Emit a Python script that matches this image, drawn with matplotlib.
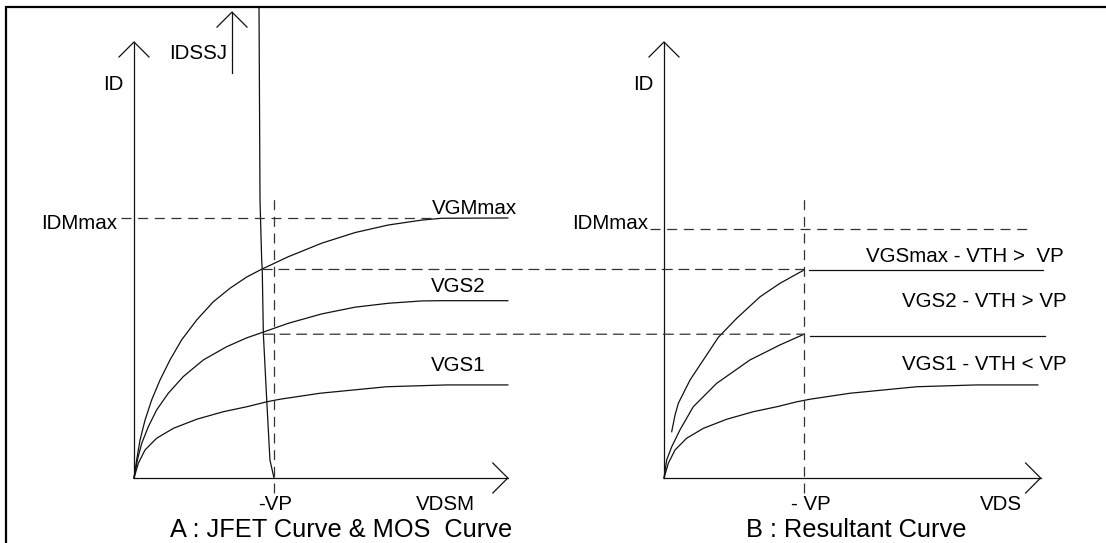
import matplotlib
matplotlib.use("Agg")
import matplotlib.pyplot as plt
from matplotlib.patches import ConnectionPatch
from matplotlib.lines import Line2D

plt.rcParams['font.family'] = ['Liberation Sans', 'DejaVu Sans']
plt.rcParams['lines.scale_dashes'] = False

# ---------------- data (x in units of VP, y in units of IDMmax of panel A) -------------
VP = 1.0
IDM_MAX_A = 1.0
IDM_MAX_B = 0.958
Y_AXIS_TOP = 1.677
X_AXIS_END_A = 2.67
X_AXIS_END_B = 2.69

# Panel A : MOS curves
vgm_max_x = [0, 0.019, 0.043, 0.079, 0.126, 0.186, 0.257, 0.34, 0.448, 0.567, 0.686,
             0.805, 0.912, 1.102, 1.34, 1.579, 1.816, 2.055, 2.198, 2.67]
vgm_max_y = [0, 0.069, 0.146, 0.223, 0.3, 0.377, 0.454, 0.531, 0.608, 0.678, 0.73,
             0.773, 0.803, 0.851, 0.903, 0.944, 0.973, 0.992, 0.999, 1.0]
vgs2_x = [0, 0.024, 0.055, 0.102, 0.162, 0.245, 0.352, 0.495, 0.662, 0.805, 0.912,
          1.102, 1.34, 1.579, 1.816, 2.055, 2.198, 2.67]
vgs2_y = [0, 0.069, 0.133, 0.197, 0.262, 0.326, 0.39, 0.454, 0.505, 0.539, 0.559,
          0.595, 0.631, 0.657, 0.672, 0.681, 0.682, 0.682]
vgs1_x = [0, 0.031, 0.079, 0.162, 0.281, 0.448, 0.638, 0.805, 0.948, 1.043, 1.329,
          1.805, 2.233, 2.67]
vgs1_y = [0, 0.057, 0.108, 0.153, 0.191, 0.226, 0.255, 0.274, 0.293, 0.303, 0.326,
          0.351, 0.358, 0.358]
# Panel A : JFET curve
jfet_x = [0.893, 0.9, 0.912, 0.916, 0.924, 0.948, 0.971, 1.0]
jfet_y = [1.808, 1.07, 0.838, 0.803, 0.554, 0.3, 0.069, 0.0]
idssj_x = 0.7
idssj_y = [1.558, 1.792]

# Panel B : resultant curves
top_b_x = [0.055, 0.078, 0.102, 0.186, 0.281, 0.388, 0.519, 0.686, 0.829, 1.0]
top_b_y = [0.178, 0.24, 0.287, 0.377, 0.454, 0.541, 0.614, 0.697, 0.749, 0.8]
top_b_flat_x = [1.036, 2.707]
top_b_flat_y = 0.8
mid_b_x = [0, 0.019, 0.055, 0.114, 0.209, 0.376, 0.614, 0.829, 1.0]
mid_b_y = [0, 0.069, 0.12, 0.185, 0.274, 0.364, 0.454, 0.512, 0.553]
mid_b_flat_x = [1.043, 2.718]
mid_b_flat_y = 0.546

# Reference levels (dashed)
level_1 = 0.802
level_1_start = 0.916
level_2 = 0.553
level_2_start = 0.924
vp_dash_y = [-0.058, 1.077]
idm_a_dash_x = [-0.093, 2.15]
idm_b_dash_x = [-0.1, 2.593]

# ---------------- layout (pixels) ----------------
W, H = 1106, 543
ORIGIN_A_PX, ORIGIN_B_PX, ORIGIN_Y_PX = 134, 664, 478
PX_X, PX_Y = 140.0, 260.0
ARROW_PX = 15.0
LABEL_FS = 14.8
CAPTION_FS = 18.3
LW = 0.9
CURVE_C = '#111111'
DASH_C = '#333333'
DASH = (0, (7.2, 4.8))

fig = plt.figure(figsize=(W / 100, H / 100), dpi=100)


def make_axes(origin_px):
    ax = fig.add_axes([0, 0, 1, 1], facecolor='none')
    ax.set_xlim((0 - origin_px) / PX_X, (W - origin_px) / PX_X)
    ax.set_ylim((ORIGIN_Y_PX - H) / PX_Y, ORIGIN_Y_PX / PX_Y)
    ax.axis('off')
    return ax


axA = make_axes(ORIGIN_A_PX)
axB = make_axes(ORIGIN_B_PX)

ah_x = ARROW_PX / PX_X
ah_y = ARROW_PX / PX_Y


def up_arrow(ax, x, y0, y1):
    ax.plot([x, x], [y0, y1], color=CURVE_C, lw=LW)
    ax.plot([x - ah_x, x, x + ah_x], [y1 - ah_y, y1, y1 - ah_y], color=CURVE_C, lw=LW)


def right_arrow(ax, x0, x1, y):
    ax.plot([x0, x1], [y, y], color=CURVE_C, lw=LW)
    ax.plot([x1 - ah_x, x1, x1 - ah_x], [y + ah_y, y, y - ah_y], color=CURVE_C, lw=LW)


def curve(ax, xs, ys):
    ax.plot(xs, ys, color=CURVE_C, lw=LW, solid_joinstyle='round')


def dashed(ax, xs, ys):
    ax.plot(xs, ys, color=DASH_C, lw=LW, linestyle=DASH)


# ---------- Panel A ----------
up_arrow(axA, 0, 0, Y_AXIS_TOP)
right_arrow(axA, 0, X_AXIS_END_A, 0)
up_arrow(axA, idssj_x, idssj_y[0], idssj_y[1])
curve(axA, vgm_max_x, vgm_max_y)
curve(axA, vgs2_x, vgs2_y)
curve(axA, vgs1_x, vgs1_y)
curve(axA, jfet_x, jfet_y)
dashed(axA, idm_a_dash_x, [IDM_MAX_A, IDM_MAX_A])
dashed(axA, [VP, VP], vp_dash_y)

axA.text(-0.146, 1.491, 'ID', fontsize=LABEL_FS, ha='center', va='baseline')
axA.text(0.668, 1.61, 'IDSSJ', fontsize=LABEL_FS, ha='right', va='baseline')
axA.text(-0.121, 0.956, 'IDMmax', fontsize=LABEL_FS, ha='right', va='baseline')
axA.text(2.129, 1.015, 'VGMmax', fontsize=LABEL_FS, ha='left', va='baseline')
axA.text(2.121, 0.715, 'VGS2', fontsize=LABEL_FS, ha='left', va='baseline')
axA.text(2.121, 0.413, 'VGS1', fontsize=LABEL_FS, ha='left', va='baseline')
axA.text(1.007, -0.123, '-VP', fontsize=LABEL_FS, ha='center', va='baseline')
axA.text(2.221, -0.123, 'VDSM', fontsize=LABEL_FS, ha='center', va='baseline')
axA.text(1.479, -0.227, 'A : JFET Curve & MOS  Curve', fontsize=CAPTION_FS,
         ha='center', va='baseline')

# ---------- Panel B ----------
up_arrow(axB, 0, 0, Y_AXIS_TOP)
right_arrow(axB, 0, X_AXIS_END_B, 0)
curve(axB, top_b_x, top_b_y)
curve(axB, mid_b_x, mid_b_y)
curve(axB, vgs1_x, vgs1_y)
curve(axB, top_b_flat_x, [top_b_flat_y] * 2)
curve(axB, mid_b_flat_x, [mid_b_flat_y] * 2)
dashed(axB, idm_b_dash_x, [IDM_MAX_B, IDM_MAX_B])
dashed(axB, [VP, VP], vp_dash_y)

axB.text(-0.146, 1.491, 'ID', fontsize=LABEL_FS, ha='center', va='baseline')
axB.text(-0.114, 0.958, 'IDMmax', fontsize=LABEL_FS, ha='right', va='baseline')
axB.text(1.443, 0.831, 'VGSmax - VTH >  VP', fontsize=LABEL_FS, ha='left', va='baseline')
axB.text(1.7, 0.656, 'VGS2 - VTH > VP', fontsize=LABEL_FS, ha='left', va='baseline')
axB.text(1.7, 0.415, 'VGS1 - VTH < VP', fontsize=LABEL_FS, ha='left', va='baseline')
axB.text(1.048, -0.123, '- VP', fontsize=LABEL_FS, ha='center', va='baseline')
axB.text(2.405, -0.123, 'VDS', fontsize=LABEL_FS, ha='center', va='baseline')
axB.text(1.371, -0.227, 'B : Resultant Curve', fontsize=CAPTION_FS,
         ha='center', va='baseline')

# ---------- cross-panel dashed projections ----------
for start, lev in [(level_1_start, level_1), (level_2_start, level_2)]:
    con = ConnectionPatch(xyA=(start, lev), coordsA=axA.transData,
                          xyB=(VP, lev), coordsB=axB.transData,
                          color=DASH_C, lw=LW, linestyle=DASH)
    fig.add_artist(con)

# ---------- frame (top and left edges visible) ----------
bx, by = 5.7 / W, 1 - 7.3 / H
fig.add_artist(Line2D([bx, bx, 1.0], [0.0, by, by], transform=fig.transFigure,
                      color='black', lw=1.6, solid_joinstyle='miter'))

fig.savefig('out.png', dpi=100)
